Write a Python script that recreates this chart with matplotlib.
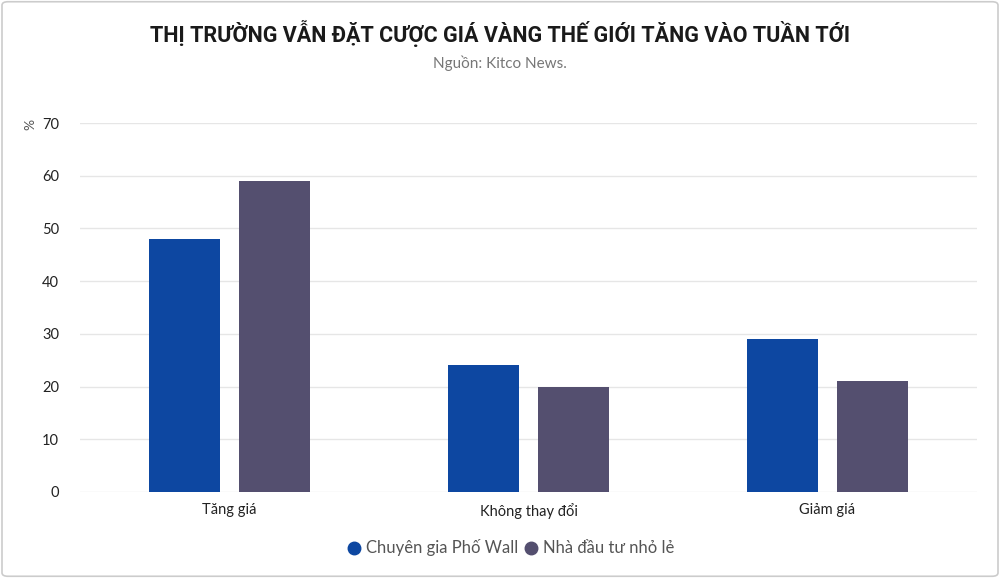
import matplotlib.pyplot as plt
import numpy as np
from matplotlib.patches import FancyBboxPatch

# data
categories = ['Tăng giá', 'Không thay đổi', 'Giảm giá']
series_names = ['Chuyên gia Phố Wall', 'Nhà đầu tư nhỏ lẻ']
wall_street = [48, 24, 29]
retail = [59, 20, 21]

colors = ['#0d47a1', '#544f6f']

plt.rcParams['font.family'] = ['Lato', 'DejaVu Sans']
plt.rcParams['font.size'] = 10

fig = plt.figure(figsize=(10, 5.78), dpi=100)
ax = fig.add_axes([0.080, 0.149, 0.897, 0.638])

# khung viền ngoài
border = FancyBboxPatch((0.002, 0.003), 0.996, 0.994, boxstyle='round,pad=0,rounding_size=0.006',
                        transform=fig.transFigure, fill=False, edgecolor='#cccccc', linewidth=1.2)
fig.patches.append(border)

x = np.arange(len(categories))
w = 0.2375
off = w / 2 + 0.031
ax.bar(x - off, wall_street, width=w, color=colors[0], zorder=3)
ax.bar(x + off, retail, width=w, color=colors[1], zorder=3)

ax.set_xlim(-0.5, 2.5)
ax.set_ylim(0, 70)
ax.set_yticks(range(0, 71, 10))
ax.set_xticks(x)
ax.set_xticklabels(categories, fontsize=10, color='#222222')
ax.tick_params(axis='both', length=0, colors='#222222', labelsize=10.5)
ax.tick_params(axis='y', pad=15)
ax.tick_params(axis='x', pad=8)
ax.grid(axis='y', color='#e6e6e6', linewidth=1, zorder=0)
for s in ax.spines.values():
    s.set_visible(False)

fig.text(0.03, 0.785, '%', rotation=90, ha='center', va='center', fontsize=10, color='#555555')

fig.text(0.5, 0.943, 'THỊ TRƯỜNG VẪN ĐẶT CƯỢC GIÁ VÀNG THẾ GIỚI TĂNG VÀO TUẦN TỚI',
         ha='center', va='center', fontsize=15.5, fontweight='bold', color='#1a1a1a',
         family=['Roboto', 'DejaVu Sans'])
fig.text(0.5, 0.891, 'Nguồn: Kitco News.', ha='center', va='center', fontsize=11, color='#777777')

handles = [plt.Line2D([], [], marker='o', linestyle='', markersize=9, color=c) for c in colors]
fig.legend(handles, series_names, loc='center', bbox_to_anchor=(0.51, 0.052), ncol=2, frameon=False,
           fontsize=12, labelcolor='#555555', handletextpad=0.2, columnspacing=0.3, handlelength=1)

plt.savefig('out.png', dpi=100)
plt.close()
